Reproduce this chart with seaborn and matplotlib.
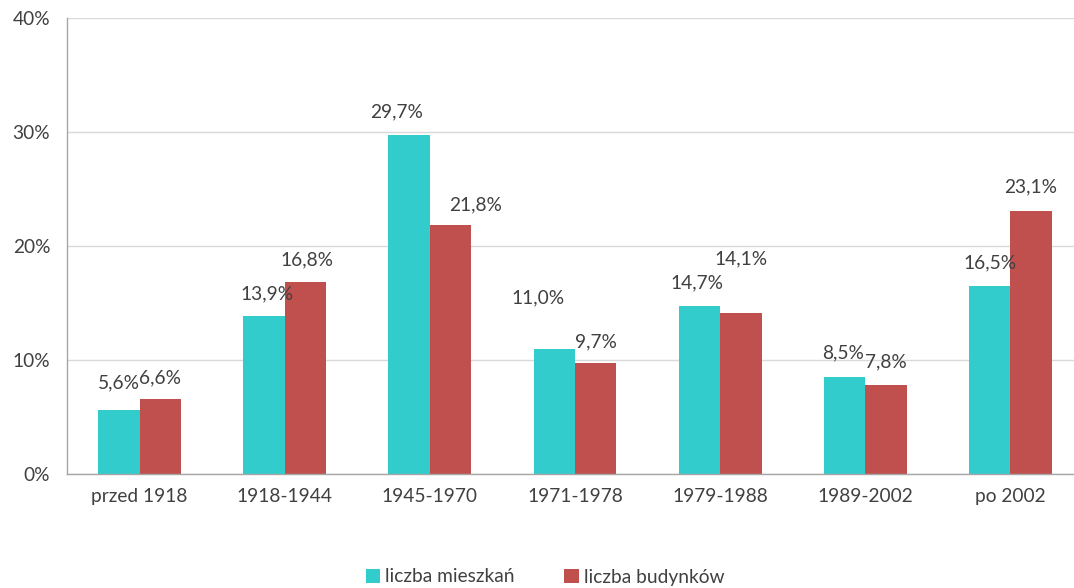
import matplotlib
matplotlib.use("Agg")
import matplotlib.pyplot as plt
import seaborn as sns
import pandas as pd

# data
periods = ["przed 1918", "1918-1944", "1945-1970", "1971-1978", "1979-1988", "1989-2002", "po 2002"]
mieszkania = [5.6, 13.9, 29.7, 11.0, 14.7, 8.5, 16.5]
budynki = [6.6, 16.8, 21.8, 9.7, 14.1, 7.8, 23.1]
series_names = ["liczba mieszkań", "liczba budynków"]
y_ticks = [0, 10, 20, 30, 40]

# label offsets (pixels) as placed in the original, per series
offsets_m = [(0, 27), (3, 22), (-13, 24), (-16, 51), (-3, 24), (-2, 24), (0, 23)]
offsets_b = [(0, 21), (2, 23), (25, 21), (0, 22), (0, 54), (0, 23), (0, 24)]

df = pd.DataFrame({
    "okres": periods * 2,
    "seria": [series_names[0]] * len(periods) + [series_names[1]] * len(periods),
    "wartosc": mieszkania + budynki,
})

sns.set_style("white")
plt.rcParams["font.family"] = ["Lato", "DejaVu Sans"]
text_color = "#404040"
fs = 13.8

fig = plt.figure(figsize=(10.74, 5.88), dpi=100)
# the plot area runs slightly past the right edge of the image, as in the original
ax = fig.add_axes([67 / 1074, 114 / 588, (1083 - 67) / 1074, 456 / 588])

sns.barplot(data=df, x="okres", y="wartosc", hue="seria", order=periods,
            hue_order=series_names, palette=["#33CCCC", "#C0504D"],
            width=0.57, saturation=1, linewidth=0, ax=ax, legend=True)

ax.set_ylim(0, 40)
ax.set_xlim(-0.5, len(periods) - 0.5)
ax.set_yticks(y_ticks)
ax.set_yticklabels([f"{t}%" for t in y_ticks], color=text_color, fontsize=fs)
ax.set_xticks(range(len(periods)))
ax.set_xticklabels(periods, color=text_color, fontsize=fs)
ax.set_xticks([i - 0.5 for i in range(len(periods) + 1)], minor=True)
ax.tick_params(axis="x", which="major", length=0, pad=10)
ax.tick_params(axis="x", which="minor", length=5, color="#A6A6A6", width=1)
ax.tick_params(axis="y", length=5, color="#A6A6A6", width=1, pad=7)
ax.set_xlabel("")
ax.set_ylabel("")

ax.yaxis.grid(True, color="#D9D9D9", linewidth=1)
ax.set_axisbelow(True)
for side in ["top", "right"]:
    ax.spines[side].set_visible(False)
for side in ["left", "bottom"]:
    ax.spines[side].set_color("#A6A6A6")
    ax.spines[side].set_linewidth(1)

for container, offs in zip(ax.containers, [offsets_m, offsets_b]):
    for bar, (dx, dy) in zip(container, offs):
        h = bar.get_height()
        ax.annotate(f"{h:.1f}%".replace(".", ","),
                    (bar.get_x() + bar.get_width() / 2, h),
                    xytext=(dx, dy), textcoords="offset pixels",
                    ha="center", va="center", fontsize=fs, color=text_color)

handles, labels = ax.get_legend_handles_labels()
ax.get_legend().remove()
fig.legend(handles, labels, loc="center", bbox_to_anchor=(545 / 1074, 1 - 577 / 588),
           ncol=2, frameon=False, fontsize=fs, handlelength=0.75, handleheight=0.75,
           handletextpad=0.25, columnspacing=2.6, labelcolor=text_color)

fig.savefig("out.png", dpi=100)
